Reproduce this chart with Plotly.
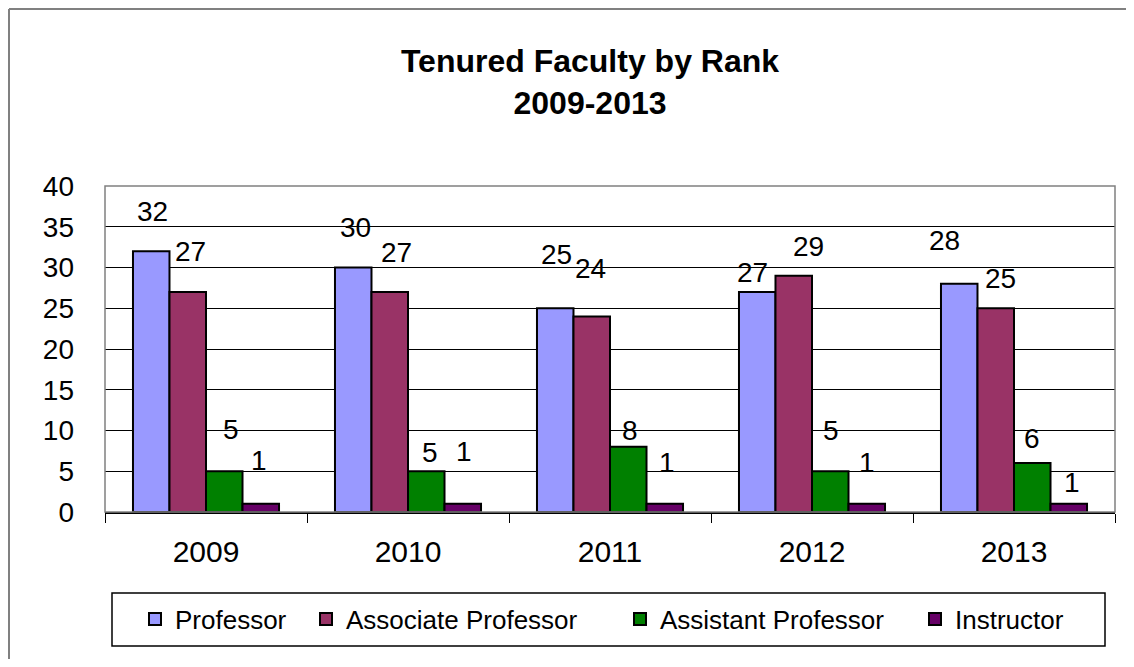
import plotly.graph_objects as go

years = ["2009", "2010", "2011", "2012", "2013"]
professor = [32, 30, 25, 27, 28]
associate = [27, 27, 24, 29, 25]
assistant = [5, 5, 8, 5, 6]
instructor = [1, 1, 1, 1, 1]

series = [
    ("Professor", professor, "#9999FF"),
    ("Associate Professor", associate, "#993366"),
    ("Assistant Professor", assistant, "#008000"),
    ("Instructor", instructor, "#660066"),
]

# hand-placed label offsets (px) per series, per year: (dx from category centre, dy above bar top)
label_offsets = [
    [(-54, 40), (-53, 40), (-54, 54), (-60, 19), (-70, 43)],
    [(-16, 40), (-12, 39), (-20, 48), (-4, 29), (-14, 30)],
    [(25, 42), (22, 19), (20, 16), (19, 41), (18, 25)],
    [(53, 43), (56, 52), (57, 41), (55, 41), (58, 21)],
]

# where each legend entry's text starts, in page px
legend_text_px = [177, 348, 662, 957]

FONT = "Arial, Liberation Sans, sans-serif"

# the page has an 8px body margin, so the figure is drawn 8px in from the corner;
# keep it small enough that the page does not overflow
W, H = 1118, 651


# page px -> paper helpers (plot area at page px 105..1115 x 186..512)
def px_x(p):
    return (p - 105) / 1010


def px_y(p):
    return (512 - p) / 326


fig = go.Figure()
legend_names = ["legend", "legend2", "legend3", "legend4"]
for (name, vals, color), lg in zip(series, legend_names):
    fig.add_trace(go.Bar(
        name=name, x=years, y=vals, legend=lg,
        marker=dict(color=color, line=dict(color="black", width=2)),
    ))

annotations = []
for (name, vals, color), offs in zip(series, label_offsets):
    for i, (v, (dx, dy)) in enumerate(zip(vals, offs)):
        annotations.append(dict(
            x=i, y=v, xref="x", yref="y", text=str(v), showarrow=False,
            xshift=dx, yshift=dy, yanchor="middle",
            font=dict(family=FONT, size=28, color="black"),
        ))

border = dict(color="#808080", width=2)
shapes = [
    # outer chart border: only its top and left edges fall inside the window
    dict(type="line", xref="paper", yref="paper", x0=px_x(9), y0=px_y(9),
         x1=px_x(1200), y1=px_y(9), line=border, layer="below"),
    dict(type="line", xref="paper", yref="paper", x0=px_x(9), y0=px_y(9),
         x1=px_x(9), y1=px_y(700), line=border, layer="below"),
    # plot area border
    dict(type="rect", xref="paper", yref="paper", x0=0, y0=0, x1=1, y1=1,
         line=dict(color="#808080", width=1.5), layer="above"),
    # legend box
    dict(type="rect", xref="paper", yref="paper", x0=px_x(112), y0=px_y(646),
         x1=px_x(1105), y1=px_y(593), line=dict(color="black", width=1.5)),
]

legend_layout = {}
for lg, tx in zip(legend_names, legend_text_px):
    legend_layout[lg] = dict(
        orientation="h", x=px_x(tx - 42), xanchor="left", y=px_y(619), yanchor="middle",
        font=dict(family=FONT, size=26, color="black"),
        bgcolor="rgba(0,0,0,0)", borderwidth=0,
    )

fig.update_layout(
    width=W, height=H,
    margin=dict(l=97, r=W - 1107, t=178, b=H - 504),
    paper_bgcolor="white", plot_bgcolor="white",
    font=dict(family=FONT, color="black"),
    barmode="group", bargap=0.277, bargroupgap=0,
    title=dict(
        text="<b>Tenured Faculty by Rank<br>2009-2013</b>",
        font=dict(family=FONT, size=32, color="black"),
        xref="container", x=582 / W, xanchor="center",
        yref="container", y=1 - 64 / H, yanchor="top",
    ),
    showlegend=True,
    annotations=annotations,
    shapes=shapes,
    **legend_layout,
)
fig.update_xaxes(
    type="category", range=[-0.5, 4.5], showgrid=False,
    showline=True, linecolor="black", linewidth=1.5,
    ticks="outside", tickson="boundaries", ticklen=9, tickcolor="black",
    tickfont=dict(family=FONT, size=30, color="black"), ticklabelstandoff=12,
)
fig.update_yaxes(
    range=[0, 40], dtick=5, showgrid=True, gridcolor="black", gridwidth=1,
    showline=False, zeroline=False, ticks="",
    tickfont=dict(family=FONT, size=28, color="black"), ticklabelstandoff=30,
)

fig.write_html("out.html")
